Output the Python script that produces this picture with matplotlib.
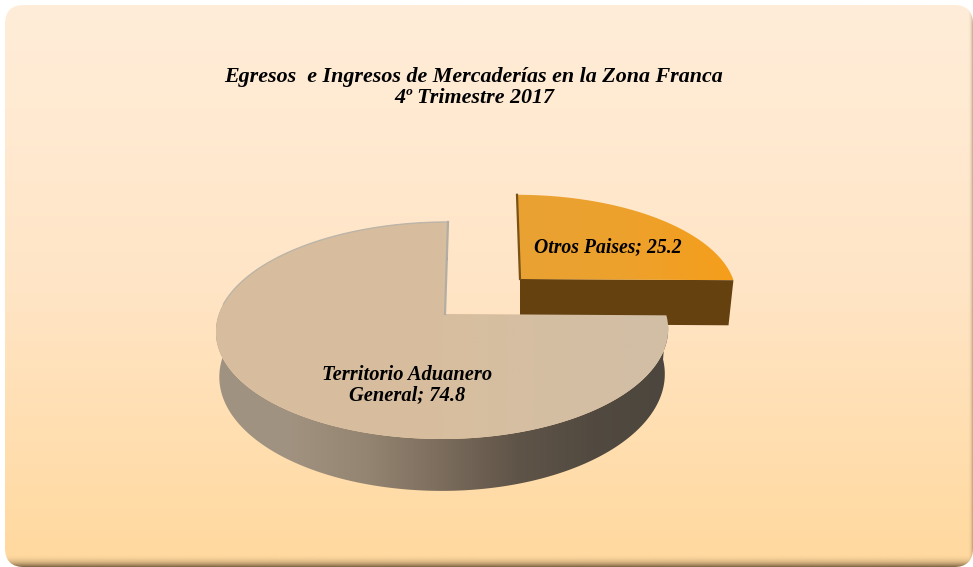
import numpy as np
import matplotlib
matplotlib.use('Agg')
import matplotlib.pyplot as plt
from matplotlib.colors import LinearSegmentedColormap
from matplotlib.patches import FancyBboxPatch, Polygon

# datos del grafico
nombres = ['Otros Paises', 'Territorio Aduanero\nGeneral']
valores = [25.2, 74.8]
titulo = 'Egresos  e Ingresos de Mercaderías en la Zona Franca\n4º Trimestre 2017'

plt.rcParams['font.family'] = ['Liberation Serif', 'DejaVu Serif']

W, H = 973, 567
fig = plt.figure(figsize=(W / 100, H / 100), dpi=100)
ax = fig.add_axes([0, 0, 1, 1])
ax.set_xlim(0, W)
ax.set_ylim(H, 0)
ax.axis('off')


# rellena un poligono con un degradado (horizontal o vertical)
def degradado(puntos, stops, horizontal=True, z=1):
    puntos = np.asarray(puntos)
    x0, x1 = puntos[:, 0].min(), puntos[:, 0].max()
    y0, y1 = puntos[:, 1].min(), puntos[:, 1].max()
    cmap = LinearSegmentedColormap.from_list('g', stops)
    g = np.linspace(0, 1, 256)
    g = g.reshape(1, -1) if horizontal else g.reshape(-1, 1)
    im = ax.imshow(g, cmap=cmap, extent=[x0, x1, y1, y0], aspect='auto', zorder=z)
    pol = Polygon(puntos, closed=True, fc='none', ec='none', transform=ax.transData)
    ax.add_patch(pol)
    im.set_clip_path(pol)
    return im


# proyeccion en perspectiva del plano de la torta a la figura
def proyectar(theta, p, bajar=False):
    th = np.radians(theta)
    u, v = np.sin(th), np.cos(th)
    w = 1 + p['k'] * v
    r = np.where(u < 0, p['r_izq'], p['r_der'])
    dx = r * u / w + p['sesgo'] * v
    x = p['cx'] + dx
    y = p['cy'] - p['f'] * v / w
    if bajar:
        x = p['cx'] + dx * p['enc']
        y = y + p['alto'] / w
    return x, y


# fondo con esquinas redondeadas
caja = FancyBboxPatch((5, 5), 968, 562, boxstyle='round,pad=0,rounding_size=19',
                      fc='none', ec='none', transform=ax.transData)
ax.add_patch(caja)
fondo_stops = [(0.0, '#FFEDD9'), (0.5, '#FFE5C6'), (0.975, '#FFD99F'), (1.0, '#FFD9A0')]
cm_fondo = LinearSegmentedColormap.from_list('fondo', fondo_stops)
im = ax.imshow(np.linspace(0, 1, 256).reshape(-1, 1), cmap=cm_fondo,
               extent=[5, W, 567, 5], aspect='auto', zorder=0)
im.set_clip_path(caja)
# sombra inferior y derecha
cm_sombra = LinearSegmentedColormap.from_list('sombra', [(0.62, 0.50, 0.33, 0.0), (0.45, 0.36, 0.24, 0.95)])
sm = ax.imshow(np.linspace(0, 1, 64).reshape(-1, 1) ** 2, cmap=cm_sombra,
               extent=[5, W, 567, 554], aspect='auto', zorder=0.5)
sm.set_clip_path(caja)
sd = ax.imshow(np.linspace(0, 1, 64).reshape(1, -1) ** 2, cmap=cm_sombra,
               extent=[W - 5, W, 567, 5], aspect='auto', zorder=0.5, alpha=0.5)
sd.set_clip_path(caja)

# angulos desde los valores, sentido horario desde arriba
total = sum(valores)
corte = 360 * valores[0] / total

chico = dict(cx=520, cy=279, r_izq=213, r_der=213, f=97, k=0.152, sesgo=-3, alto=45, enc=0.977)
grande = dict(cx=445, cy=314, r_izq=226, r_der=221, f=106, k=0.152, sesgo=3, alto=44, enc=0.985)

# porcion chica
th = np.linspace(0, corte, 120)
x, y = proyectar(th, chico)
xa, ya = proyectar(corte, chico, bajar=True)
cara = [(chico['cx'], chico['cy']), (x[-1], y[-1]), (float(xa), float(ya)),
        (chico['cx'], chico['cy'] + chico['alto'])]
ax.add_patch(Polygon(cara, closed=True, fc='#65410F', ec='none', zorder=2))
sup = [(chico['cx'], chico['cy'])] + list(zip(x, y))
degradado(sup, ['#E9A233', '#EDA12C', '#F59E1B'], z=3)
ax.plot([x[0], chico['cx']], [y[0], chico['cy']], color='#7A5216', lw=1.6, zorder=3.5)

# porcion grande
th = np.linspace(corte, 360, 300)
x, y = proyectar(th, grande)
xb, yb = proyectar(th, grande, bajar=True)
pared = list(zip(x, y)) + list(zip(xb[::-1], yb[::-1]))
degradado(pared, ['#A09381', '#A19280', '#948572', '#7B6C5C', '#5F5448', '#524A40', '#4C463E'], z=4)
sup = [(grande['cx'], grande['cy'])] + list(zip(x, y))
degradado(sup, ['#D7BD9D', '#D7BE9F', '#D2BEA6'], z=5)
# borde gris del lado de atras
m = th >= 275
ax.plot(x[m], y[m], color='#BDB5A8', lw=1.0, zorder=5.5)
ax.plot([x[-1], grande['cx']], [y[-1], grande['cy']], color='#B3ADA3', lw=1.6, zorder=5.5)

# textos
ax.text(474, 87.5, titulo, ha='center', va='center', fontsize=15.8, fontweight='bold',
        fontstyle='italic', color='black', linespacing=1.05, zorder=6)
ax.text(607.5, 247, f'{nombres[0]}; {valores[0]}', ha='center', va='center', fontsize=14.2,
        fontweight='bold', fontstyle='italic', color='black', zorder=6)
ax.text(407, 385, f'{nombres[1]}; {valores[1]}', ha='center', va='center', fontsize=14.8,
        fontweight='bold', fontstyle='italic', color='black', linespacing=1.05, zorder=6)

ax.set_xlim(0, W)
ax.set_ylim(H, 0)
fig.savefig('out.png', dpi=100, facecolor='white')
